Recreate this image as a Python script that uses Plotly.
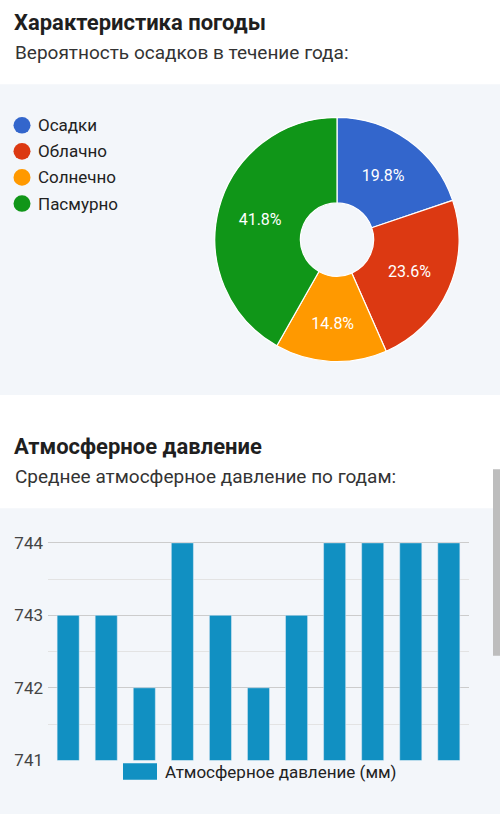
import plotly.graph_objects as go

# ---- data ----
pie_labels = ["Осадки", "Облачно", "Солнечно", "Пасмурно"]
pie_values = [19.8, 23.6, 14.8, 41.8]
pie_colors = ["#3366cc", "#dc3912", "#ff9900", "#109618"]

bar_categories = ["Год 1", "Год 2", "Год 3", "Год 4", "Год 5", "Год 6",
                  "Год 7", "Год 8", "Год 9", "Год 10", "Год 11"]
bar_values = [743, 743, 742, 744, 743, 742, 743, 744, 744, 744, 744]
bar_name = "Атмосферное давление (мм)"
y_ticks = [741, 742, 743, 744]

W, H = 500, 824
FONT = "Roboto"
PANEL = "#f3f6fa"
BAR_COLOR = "#1190c2"

def px(x):
    return x / W

def py(y):
    return 1 - y / H

fig = go.Figure()

fig.add_trace(go.Pie(
    labels=pie_labels, values=pie_values, sort=False, direction="clockwise",
    rotation=0, hole=0.3,
    marker=dict(colors=pie_colors, line=dict(color="white", width=1.2)),
    texttemplate="%{percent:.1%}", textposition="inside",
    insidetextorientation="horizontal",
    textfont=dict(color="white", size=16, family=FONT),
    domain=dict(x=[px(212), px(462)], y=[py(361), py(111)]),
    showlegend=False, hoverinfo="label+percent",
))

fig.add_trace(go.Bar(
    x=bar_categories, y=bar_values, name=bar_name, marker_color=BAR_COLOR,
    width=0.58, showlegend=False,
))

shapes = [
    dict(type="rect", xref="paper", yref="paper", x0=0, x1=1, y0=py(395), y1=py(77),
         fillcolor=PANEL, line_width=0, layer="below"),
    dict(type="rect", xref="paper", yref="paper", x0=0, x1=1, y0=0, y1=py(511),
         fillcolor=PANEL, line_width=0, layer="below"),
    dict(type="rect", xref="paper", yref="paper", x0=px(493), x1=px(500), y0=py(662), y1=py(471),
         fillcolor="#bdbdbd", line_width=0, layer="above"),
    dict(type="rect", xref="paper", yref="paper", x0=px(123), x1=px(157), y0=py(789), y1=py(772),
         fillcolor=BAR_COLOR, line_width=0),
]

annotations = [
    dict(text="<b>Характеристика погоды</b>", x=px(12), y=py(14), xref="paper", yref="paper",
         xanchor="left", yanchor="middle", showarrow=False,
         font=dict(size=22, color="#1f1f1f", family=FONT)),
    dict(text="Вероятность осадков в течение года:", x=px(13), y=py(45), xref="paper", yref="paper",
         xanchor="left", yanchor="middle", showarrow=False,
         font=dict(size=19, color="#333333", family=FONT)),
    dict(text="<b>Атмосферное давление</b>", x=px(12), y=py(448), xref="paper", yref="paper",
         xanchor="left", yanchor="middle", showarrow=False,
         font=dict(size=22, color="#1f1f1f", family=FONT)),
    dict(text="Среднее атмосферное давление по годам:", x=px(13), y=py(479), xref="paper", yref="paper",
         xanchor="left", yanchor="middle", showarrow=False,
         font=dict(size=19, color="#333333", family=FONT)),
    dict(text=bar_name, x=px(163), y=py(781), xref="paper", yref="paper",
         xanchor="left", yanchor="middle", showarrow=False,
         font=dict(size=17, color="#222222", family=FONT)),
]

# pie legend: circles + labels
for i, (lab, col) in enumerate(zip(pie_labels, pie_colors)):
    cy = 119 + i * 26.7
    shapes.append(dict(type="circle", xref="paper", yref="paper",
                       x0=px(13.5), x1=px(30.5), y0=py(cy + 8.5), y1=py(cy - 8.5),
                       fillcolor=col, line_width=0))
    annotations.append(dict(text=lab, x=px(36), y=py(cy), xref="paper", yref="paper",
                            xanchor="left", yanchor="middle", showarrow=False,
                            font=dict(size=17, color="#222222", family=FONT)))

fig.update_layout(
    width=W, height=H, margin=dict(l=0, r=0, t=0, b=0),
    paper_bgcolor="white", plot_bgcolor="rgba(0,0,0,0)",
    font=dict(family=FONT), showlegend=False,
    shapes=shapes, annotations=annotations,
    xaxis=dict(type="category", domain=[px(48), px(469)], range=[-0.53, 10.53],
               showticklabels=False, showgrid=False, zeroline=False, showline=False, ticks=""),
    yaxis=dict(domain=[py(769), py(545)], range=[741, 744.02], tickvals=y_ticks,
               tickfont=dict(size=17, color="#444444", family=FONT),
               showgrid=True, gridcolor="#cccccc", gridwidth=1, zeroline=False,
               showline=False, ticks="", ticklabelstandoff=4,
               minor=dict(dtick=0.5, showgrid=True, gridcolor="#e3e3e3", gridwidth=1)),
)

fig.write_html("out.html", config={"displayModeBar": False},
               post_script="document.body.style.margin='0px';")
